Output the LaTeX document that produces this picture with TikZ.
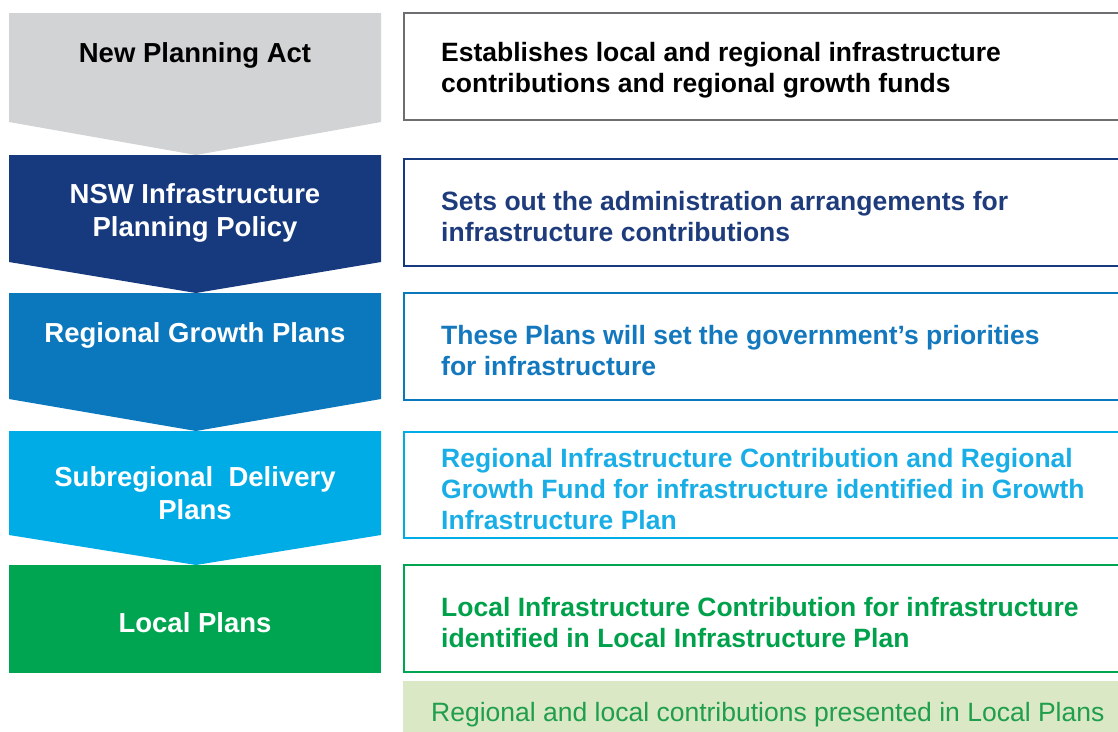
\documentclass[tikz,border=0pt]{standalone}
\usepackage{fontspec}
\setmainfont{Liberation Sans}
\definecolor{cgray}{HTML}{D1D3D4}
\definecolor{cnavy}{HTML}{173A7E}
\definecolor{cblue}{HTML}{0B77BD}
\definecolor{clight}{HTML}{00ACE6}
\definecolor{cgreen}{HTML}{00A551}
\definecolor{cband}{HTML}{DBE8C5}
\definecolor{tnavy}{HTML}{1E3B7C}
\definecolor{tblue}{HTML}{1478BE}
\definecolor{tlight}{HTML}{1AAEE6}
\definecolor{tgreen}{HTML}{00A14B}
\definecolor{tband}{HTML}{1F9E4C}
\definecolor{bgray}{HTML}{6D6E70}
\tikzset{
  lefttext/.style={align=center,inner sep=0pt,font=\fontsize{27.5}{32.5}\selectfont\bfseries},
  righttext/.style={anchor=west,align=left,inner sep=0pt,font=\fontsize{26.5}{31.2}\selectfont\bfseries},
  rbox/.style={line width=1.1pt},
}
\begin{document}
\begin{tikzpicture}[x=1pt,y=-1pt]
\useasboundingbox (0,0) rectangle (1118,731);
% chevrons
\fill[cgray] (9,13) -- (381,13) -- (381,122) -- (196,155) -- (9,122) -- cycle;
\fill[cnavy] (9,155) -- (381,155) -- (381,262) -- (196,293) -- (9,262) -- cycle;
\fill[cblue] (9,293) -- (381,293) -- (381,399) -- (196,431) -- (9,399) -- cycle;
\fill[clight] (9,431) -- (381,431) -- (381,535) -- (196,565) -- (9,535) -- cycle;
\fill[cgreen] (9,565) rectangle (381,673);
% left labels
\node[lefttext,text=black] (l1) at (195,55) {New Planning Act};
\node[lefttext,text=white] (l2) at (195,213) {NSW Infrastructure\\Planning Policy};
\node[lefttext,text=white] (l3) at (195,335) {Regional Growth Plans};
\node[lefttext,text=white] (l4) at (195,493) {Subregional~ Delivery\\Plans};
\node[lefttext,text=white] (l5) at (195,623) {Local Plans};
% right boxes
\draw[rbox,draw=bgray] (404,13) rectangle (1130,120);
\draw[rbox,draw=cnavy] (404,159) rectangle (1130,266);
\draw[rbox,draw=cblue] (404,293) rectangle (1130,400);
\draw[rbox,draw=clight] (404,432) rectangle (1130,538);
\draw[rbox,draw=cgreen] (404,565) rectangle (1130,672);
\fill[cband] (403,681) rectangle (1130,740);
% right texts
\node[righttext,text=black] (r1) at (441,70.5) {Establishes local and regional infrastructure\\contributions and regional growth funds};
\node[righttext,text=tnavy] (r2) at (441,216.5) {Sets out the administration arrangements for\\infrastructure contributions};
\node[righttext,text=tblue] (r3) at (441,350.5) {These Plans will set the government’s priorities\\for infrastructure};
\node[righttext,text=tlight] (r4) at (441,489) {Regional Infrastructure Contribution and Regional\\Growth Fund for infrastructure identified in Growth\\Infrastructure Plan};
\node[righttext,text=tgreen] (r5) at (441,622.5) {Local Infrastructure Contribution for infrastructure\\identified in Local Infrastructure Plan};
\node[anchor=west,inner sep=0pt,text=tband,font=\fontsize{26.5}{31}\selectfont] (band) at (431,715) {Regional and local contributions presented in Local Plans};
\end{tikzpicture}
\end{document}
